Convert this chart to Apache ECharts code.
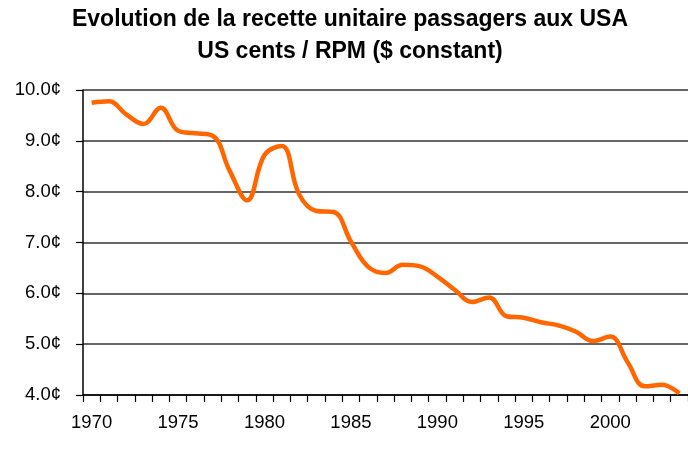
<!DOCTYPE html>
<html><head><meta charset="utf-8">
<script src="https://cdn.jsdelivr.net/npm/echarts@6/dist/echarts.min.js"></script>
<style>html,body{margin:0;padding:0;background:#fff}#c{width:688px;height:450px}</style>
</head><body><div id="c"></div>
<script>
const years = ['1970','1971','1972','1973','1974','1975','1976','1977','1978','1979','1980','1981','1982','1983','1984','1985','1986','1987','1988','1989','1990','1991','1992','1993','1994','1995','1996','1997','1998','1999','2000','2001','2002','2003','2004'];
const revenue = [9.75,9.78,9.52,9.33,9.65,9.2,9.15,9.1,8.4,7.83,8.72,8.9,7.95,7.62,7.6,7.02,6.52,6.4,6.56,6.53,6.33,6.07,5.83,5.92,5.55,5.52,5.43,5.37,5.25,5.06,5.15,4.65,4.17,4.2,4.03];
const titleLines = ['Evolution de la recette unitaire passagers aux USA','US cents / RPM ($ constant)'];

const chart = echarts.init(document.getElementById('c'));
chart.setOption({
  animation:false,
  title:{text:titleLines.join('\n'),left:350,textAlign:'center',top:4,padding:0,
    textStyle:{fontFamily:'Liberation Sans',fontSize:23,fontWeight:'bold',color:'#000',lineHeight:31.6}},
  grid:{left:83,right:-3,top:90,bottom:55},
  xAxis:{type:'category',data:years,boundaryGap:true,
    axisLine:{lineStyle:{color:'#000',width:1.5}},
    axisTick:{show:true,interval:0,length:7,lineStyle:{color:'#000',width:1.2}},
    axisLabel:{interval:4,fontFamily:'Liberation Sans',fontSize:18.5,color:'#000',margin:18}},
  yAxis:{type:'value',min:4,max:10,interval:1,
    axisLine:{show:true,lineStyle:{color:'#000',width:1.5}},
    axisTick:{show:true,length:7,lineStyle:{color:'#000',width:1.2}},
    splitLine:{lineStyle:{color:'#333',width:1.5}},
    axisLabel:{formatter:v=>v.toFixed(1)+'¢',fontFamily:'Liberation Sans',fontSize:18.5,color:'#000',margin:22}},
  series:[{type:'line',data:revenue,smooth:0.4,showSymbol:false,
    lineStyle:{color:'#FF6600',width:4.5}}]
});
</script></body></html>
